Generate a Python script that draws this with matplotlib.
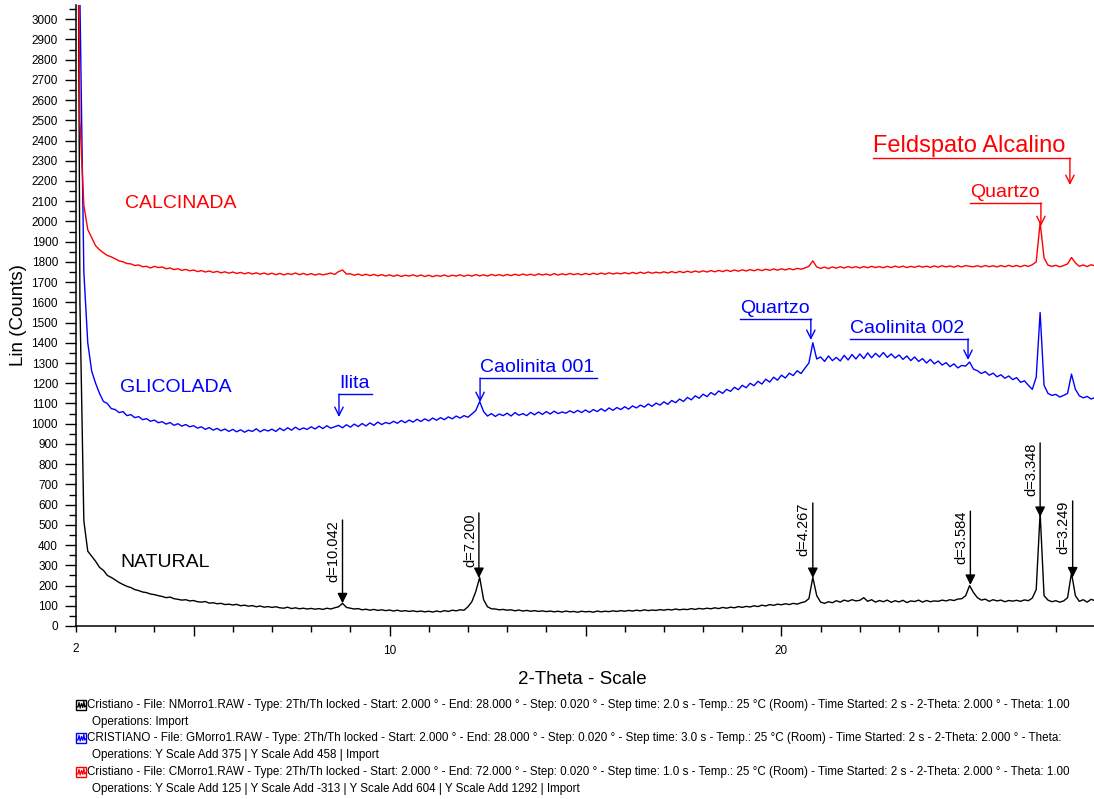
import numpy as np
import matplotlib
matplotlib.use("Agg")
import matplotlib.pyplot as plt
from matplotlib.ticker import MultipleLocator, FixedLocator
from matplotlib.transforms import offset_copy
from matplotlib.patches import Rectangle
from matplotlib.lines import Line2D

plt.rcParams['font.family'] = ['Liberation Sans', 'DejaVu Sans']

# 2-theta scan, 2.0 .. 28.0 deg at 0.1 deg
two_theta = np.round(np.arange(2.0, 28.0001, 0.1), 2)

# one row = one degree (x.0 .. x.9)
natural = [
    6000, 1600, 520, 370, 345, 320, 290, 275, 250, 240,
    228, 215, 205, 196, 190, 180, 175, 168, 165, 158,
    155, 150, 146, 140, 143, 135, 132, 128, 130, 124,
    126, 120, 118, 121, 113, 115, 110, 112, 106, 108,
    104, 107, 100, 103, 98, 101, 95, 99, 93, 96,
    92, 95, 90, 88, 93, 86, 90, 85, 88, 84,
    87, 83, 86, 82, 88, 84, 90, 95, 112, 92,
    88, 84, 86, 80, 83, 78, 82, 77, 80, 76,
    79, 74, 78, 73, 76, 72, 75, 71, 74, 70,
    73, 69, 74, 70, 76, 72, 78, 75, 80, 78,
    95, 120, 170, 240, 130, 95, 85, 84, 80, 82,
    78, 80, 75, 79, 74, 77, 73, 76, 72, 75,
    71, 74, 70, 73, 69, 74, 70, 72, 68, 73,
    70, 72, 68, 74, 70, 73, 71, 75, 72, 76,
    73, 77, 74, 78, 75, 80, 76, 79, 77, 81,
    78, 82, 79, 84, 80, 83, 81, 86, 82, 87,
    84, 88, 85, 90, 86, 92, 88, 93, 90, 96,
    92, 97, 94, 100, 96, 103, 99, 106, 102, 108,
    105, 110, 106, 112, 108, 115, 120, 135, 240, 150,
    118, 112, 120, 115, 125, 118, 128, 122, 130, 124,
    127, 140, 122, 130, 118, 126, 120, 128, 117, 125,
    119, 127, 116, 124, 121, 128, 118, 126, 120, 124,
    122, 128, 124, 130, 126, 133, 135, 150, 200, 165,
    140, 128, 133, 122, 130, 124, 128, 120, 126, 123,
    127, 122, 129, 125, 138, 180, 560, 150, 128, 120,
    125, 118, 124, 140, 262, 150, 122, 130, 118, 132,
    125,
]

glicolada = [
    8000, 3100, 1750, 1400, 1260, 1200, 1150, 1110, 1100, 1075,
    1070, 1055, 1060, 1040, 1045, 1030, 1035, 1020, 1025, 1012,
    1018, 1005, 1010, 998, 1006, 992, 1000, 988, 996, 985,
    990, 978, 985, 972, 981, 968, 977, 965, 974, 962,
    972, 960, 970, 958, 968, 962, 975, 960, 971, 964,
    973, 962, 978, 966, 980, 968, 983, 970, 979, 972,
    985, 974, 988, 976, 990, 978, 985, 992, 980, 995,
    983, 998, 986, 1001, 989, 1004, 992, 1008, 996, 1006,
    1000, 1012, 1002, 1016, 1005, 1018, 1008, 1022, 1011, 1024,
    1014, 1028, 1017, 1030, 1020, 1034, 1024, 1038, 1028, 1040,
    1032, 1048, 1065, 1110, 1060, 1038, 1050, 1036, 1048, 1040,
    1052, 1038, 1055, 1042, 1050, 1040, 1056, 1044, 1058, 1046,
    1060, 1048, 1062, 1050, 1058, 1052, 1064, 1054, 1066, 1055,
    1068, 1056, 1070, 1060, 1074, 1062, 1078, 1066, 1080, 1070,
    1084, 1072, 1088, 1078, 1092, 1082, 1098, 1086, 1102, 1092,
    1108, 1096, 1115, 1104, 1122, 1110, 1130, 1118, 1138, 1126,
    1146, 1134, 1154, 1142, 1162, 1150, 1170, 1160, 1180, 1168,
    1190, 1178, 1200, 1188, 1210, 1196, 1220, 1206, 1230, 1215,
    1240, 1226, 1250, 1238, 1262, 1248, 1275, 1300, 1400, 1320,
    1330, 1308, 1335, 1312, 1328, 1310, 1338, 1315, 1342, 1320,
    1345, 1322, 1350, 1326, 1348, 1330, 1352, 1328, 1345, 1325,
    1340, 1318, 1335, 1312, 1330, 1308, 1322, 1300, 1318, 1296,
    1310, 1290, 1302, 1282, 1296, 1276, 1288, 1285, 1305, 1270,
    1262, 1248, 1258, 1240, 1250, 1232, 1242, 1225, 1236, 1218,
    1228, 1205, 1212, 1190, 1170, 1230, 1550, 1190, 1150, 1140,
    1145, 1132, 1140, 1150, 1245, 1170, 1138, 1128, 1135, 1122,
    1130,
]

calcinada = [
    4500, 2500, 2080, 1960, 1920, 1880, 1860, 1845, 1832, 1825,
    1815, 1805, 1800, 1792, 1790, 1782, 1785, 1776, 1778, 1770,
    1778, 1772, 1775, 1766, 1770, 1762, 1766, 1758, 1763, 1756,
    1760, 1752, 1757, 1750, 1755, 1748, 1753, 1746, 1751, 1744,
    1750, 1743, 1748, 1741, 1747, 1740, 1746, 1739, 1745, 1738,
    1744, 1737, 1743, 1736, 1742, 1738, 1745, 1737, 1743, 1736,
    1742, 1735, 1741, 1736, 1740, 1745, 1738, 1752, 1760, 1740,
    1741, 1734, 1740, 1733, 1739, 1732, 1738, 1731, 1737, 1730,
    1736, 1729, 1735, 1728, 1734, 1730, 1736, 1729, 1735, 1728,
    1734, 1727, 1733, 1729, 1735, 1728, 1734, 1730, 1736, 1729,
    1735, 1730, 1737, 1731, 1736, 1730, 1738, 1732, 1737, 1731,
    1738, 1732, 1739, 1733, 1740, 1734, 1739, 1733, 1741, 1735,
    1740, 1734, 1742, 1735, 1741, 1736, 1743, 1737, 1742, 1736,
    1743, 1737, 1744, 1738, 1745, 1739, 1746, 1740, 1745, 1741,
    1747, 1741, 1748, 1742, 1749, 1743, 1750, 1744, 1749, 1745,
    1751, 1745, 1752, 1746, 1753, 1747, 1754, 1748, 1755, 1749,
    1756, 1750, 1757, 1751, 1758, 1752, 1759, 1753, 1760, 1754,
    1761, 1755, 1762, 1756, 1763, 1757, 1764, 1758, 1765, 1759,
    1766, 1760, 1767, 1761, 1768, 1764, 1770, 1778, 1805, 1775,
    1768, 1774, 1767, 1775, 1769, 1776, 1770, 1777, 1771, 1776,
    1770, 1777, 1771, 1778, 1772, 1777, 1771, 1778, 1772, 1779,
    1773, 1779, 1772, 1778, 1773, 1780, 1774, 1779, 1773, 1780,
    1774, 1781, 1775, 1780, 1774, 1781, 1775, 1782, 1778, 1776,
    1781, 1775, 1782, 1776, 1781, 1775, 1782, 1776, 1783, 1777,
    1782, 1776, 1783, 1778, 1786, 1800, 1995, 1820, 1784, 1778,
    1783, 1776, 1782, 1790, 1822, 1795, 1778, 1785, 1777, 1786,
    1780,
]

series_names = ['NATURAL', 'GLICOLADA', 'CALCINADA']
series_colors = ['black', '#0000ff', '#ff0000']

# d-spacing picks on the natural sample
d_labels = ['d=10.042', 'd=7.200', 'd=4.267', 'd=3.584', 'd=3.348', 'd=3.249']
d_two_theta = [8.80, 12.28, 20.80, 24.82, 26.60, 27.43]
d_peak = [112, 237, 237, 203, 539, 240]
d_top = [524, 559, 608, 568, 905, 618]

# phase labels: (text, colour, arrow 2th, arrow tip, bar y, bar from, bar to, size)
phase_notes = [
    ('Feldspato Alcalino', '#ff0000', 27.36, 2180, 2313, 22.33, 27.36, 17),
    ('Quartzo', '#ff0000', 26.62, 1977, 2091, 24.81, 26.62, 14),
    ('Ilita', '#0000ff', 8.71, 1033, 1147, 8.71, 9.55, 14),
    ('Caolinita 001', '#0000ff', 12.31, 1107, 1226, 12.31, 15.29, 14),
    ('Quartzo', '#0000ff', 20.75, 1414, 1518, 18.94, 20.75, 14),
    ('Caolinita 002', '#0000ff', 24.76, 1315, 1419, 21.74, 24.76, 14),
]

legend_text = [
    ("Cristiano - File: NMorro1.RAW - Type: 2Th/Th locked - Start: 2.000 ° - End: 28.000 ° - Step: 0.020 ° - Step time: 2.0 s - Temp.: 25 °C (Room) - Time Started: 2 s - 2-Theta: 2.000 ° - Theta: 1.00",
     "Operations: Import"),
    ("CRISTIANO - File: GMorro1.RAW - Type: 2Th/Th locked - Start: 2.000 ° - End: 28.000 ° - Step: 0.020 ° - Step time: 3.0 s - Temp.: 25 °C (Room) - Time Started: 2 s - 2-Theta: 2.000 ° - Theta:",
     "Operations: Y Scale Add 375 | Y Scale Add 458 | Import"),
    ("Cristiano - File: CMorro1.RAW - Type: 2Th/Th locked - Start: 2.000 ° - End: 72.000 ° - Step: 0.020 ° - Step time: 1.0 s - Temp.: 25 °C (Room) - Time Started: 2 s - 2-Theta: 2.000 ° - Theta: 1.00",
     "Operations: Y Scale Add 125 | Y Scale Add -313 | Y Scale Add 604 | Y Scale Add 1292 | Import"),
]

W, H = 1094, 799
fig = plt.figure(figsize=(W / 100, H / 100), dpi=100)
ax = fig.add_axes([76 / W, 173 / H, 1019 / W, 621 / H])

for ys, c in zip([natural, glicolada, calcinada], series_colors):
    ax.plot(two_theta, ys, color=c, lw=1.0)

ax.set_xlim(2, 28)
ax.set_ylim(0, 3070)
for s in ['top', 'right']:
    ax.spines[s].set_visible(False)
ax.spines['left'].set_linewidth(1.1)
ax.spines['bottom'].set_linewidth(1.1)

ax.yaxis.set_major_locator(MultipleLocator(100))
ax.yaxis.set_minor_locator(MultipleLocator(50))
ax.tick_params(axis='y', which='major', length=8, width=1, labelsize=8.5, pad=5)
ax.tick_params(axis='y', which='minor', length=5, width=1)

ax.xaxis.set_major_locator(FixedLocator([5, 10, 15, 20, 25]))
ax.xaxis.set_minor_locator(MultipleLocator(1))
ax.set_xticklabels(['', '10', '', '20', ''])
ax.tick_params(axis='x', which='major', length=7, width=1, labelsize=8.5, pad=7)
ax.tick_params(axis='x', which='minor', length=4, width=1)
ax.text(2, -0.027, '2', transform=ax.get_xaxis_transform(), ha='center', va='top', fontsize=8.5)

fig.text(582 / W, 1 - 680 / H, '2-Theta - Scale', ha='center', va='center', fontsize=13.5)
fig.text(19 / W, 1 - 315 / H, 'Lin (Counts)', ha='center', va='center', rotation=90, fontsize=13.5)

# sample names
ax.text(3.25, 2091, 'CALCINADA', color='#ff0000', fontsize=14, va='center')
ax.text(3.12, 1181, 'GLICOLADA', color='#0000ff', fontsize=14, va='center')
ax.text(3.12, 316, 'NATURAL', color='black', fontsize=14, va='center')

# d-spacing arrows
for lab, tx, pk, top in zip(d_labels, d_two_theta, d_peak, d_top):
    ax.annotate('', xy=(tx, pk), xytext=(tx, top),
                arrowprops=dict(arrowstyle='-|>', color='black', lw=1,
                                mutation_scale=15, shrinkA=0, shrinkB=0))
    ax.text(tx, top, lab, rotation=90, ha='right', va='top', fontsize=10.5,
            transform=offset_copy(ax.transData, fig, x=-2, units='dots'))

# phase identification
lift = offset_copy(ax.transData, fig, y=6, units='dots')
for lab, c, arx, tip, by, x0, x1, fs in phase_notes:
    ax.plot([x0, x1], [by, by], color=c, lw=1)
    ax.annotate('', xy=(arx, tip), xytext=(arx, by),
                arrowprops=dict(arrowstyle='->', color=c, lw=1,
                                mutation_scale=15, shrinkA=0, shrinkB=0))
    ax.text(x0, by, lab, color=c, fontsize=fs, ha='left', va='baseline', transform=lift)

# scan info block
zig = [(0.05, 0.35), (0.2, 0.3), (0.3, 0.75), (0.42, 0.2), (0.55, 0.65),
       (0.68, 0.25), (0.78, 0.85), (0.88, 0.3), (0.97, 0.4)]
row_y = [705, 738, 772]
for (l1, l2), c, ry in zip(legend_text, series_colors, row_y):
    bx, bw = 76, 10
    fig.patches.append(Rectangle((bx / W, 1 - (ry + 5) / H), bw / W, 10 / H,
                                 transform=fig.transFigure, fill=False, ec=c, lw=1))
    fig.lines.append(Line2D([(bx + bw * p[0]) / W for p in zig],
                            [1 - (ry + 5 - 10 * p[1]) / H for p in zig],
                            transform=fig.transFigure, color=c, lw=0.9))
    fig.text(87 / W, 1 - ry / H, l1, fontsize=8.4, va='center', ha='left')
    fig.text(92 / W, 1 - (ry + 17) / H, l2, fontsize=8.4, va='center', ha='left')

fig.savefig('out.png', dpi=100)
